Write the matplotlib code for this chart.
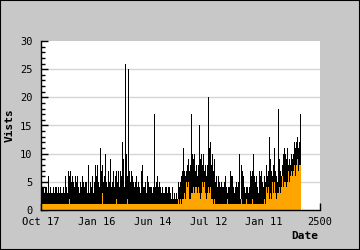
import numpy as np
import matplotlib
matplotlib.use('Agg')
import matplotlib.pyplot as plt
from matplotlib.patches import Rectangle

# visits per bin (one bin ~ 9 days)
visits = [
    7, 4, 4, 3, 4, 4, 3, 6, 3, 4, 3, 3, 4, 3, 4, 4, 3, 4, 3, 4, 3, 3, 4, 3, 6, 4, 3, 7, 6, 7, 5, 6, 5, 4, 6, 5, 6, 4, 3, 5, 4, 6, 5, 4, 5,
    5, 3, 8, 3, 5, 4, 6, 3, 5, 8, 6, 8, 5, 4, 11, 7, 8, 5, 6, 10, 5, 4, 7, 5, 9, 4, 5, 7, 4, 6, 7, 5, 7, 4, 7, 6, 12, 9, 4, 26, 10, 6, 25, 7, 5,
    7, 6, 5, 4, 5, 6, 4, 5, 4, 3, 7, 8, 4, 4, 5, 3, 6, 5, 4, 4, 4, 3, 4, 17, 4, 5, 6, 4, 5, 4, 3, 4, 3, 3, 4, 4, 3, 4, 4, 3, 2, 4, 2, 3, 2,
    3, 2, 5, 4, 5, 6, 7, 11, 7, 6, 7, 8, 9, 7, 8, 17, 10, 9, 10, 7, 8, 6, 8, 15, 9, 10, 8, 10, 7, 8, 6, 8, 20, 11, 12, 8, 10, 7, 9, 5, 6, 4, 6, 5, 4,
    5, 4, 4, 5, 6, 4, 3, 4, 4, 7, 6, 6, 4, 3, 4, 5, 4, 5, 10, 2, 8, 7, 6, 4, 3, 4, 4, 3, 4, 7, 6, 7, 10, 6, 5, 6, 4, 3, 7, 6, 7, 5, 4, 6, 5,
    8, 6, 7, 13, 9, 7, 6, 8, 11, 7, 6, 5, 18, 9, 7, 6, 8, 10, 11, 10, 9, 11, 8, 9, 8, 10, 9, 10, 12, 11, 12, 13, 11, 12, 17,
]
uniques = [
    1, 1, 1, 1, 1, 1, 1, 1, 1, 1, 1, 1, 1, 1, 1, 1, 1, 1, 1, 1, 1, 1, 1, 1, 1, 1, 1, 1, 2, 1, 1, 1, 1, 1, 1, 1, 1, 1, 1, 1, 1, 1, 1, 1, 1,
    1, 1, 1, 1, 1, 1, 1, 1, 1, 1, 1, 1, 1, 1, 1, 1, 3, 1, 1, 1, 1, 1, 1, 1, 1, 1, 1, 1, 1, 1, 2, 1, 1, 1, 1, 1, 1, 1, 1, 1, 1, 2, 1, 1, 1,
    1, 1, 1, 1, 1, 1, 1, 1, 1, 1, 1, 1, 1, 1, 1, 1, 1, 1, 1, 1, 1, 1, 1, 1, 1, 1, 1, 1, 1, 1, 1, 1, 1, 1, 1, 1, 1, 1, 1, 1, 1, 1, 1, 1, 1,
    1, 1, 2, 1, 2, 1, 2, 2, 3, 2, 5, 4, 5, 2, 2, 3, 3, 4, 3, 4, 4, 3, 4, 3, 2, 3, 5, 4, 5, 3, 2, 3, 4, 3, 4, 2, 2, 1, 2, 1, 1, 1, 1, 1, 1,
    1, 1, 1, 1, 1, 1, 2, 1, 1, 1, 1, 1, 1, 1, 1, 1, 1, 1, 1, 1, 2, 1, 1, 1, 1, 2, 1, 1, 1, 1, 1, 2, 1, 1, 1, 1, 1, 1, 1, 1, 1, 1, 1, 2, 1,
    4, 3, 4, 2, 3, 2, 5, 3, 5, 3, 2, 3, 3, 4, 3, 4, 6, 4, 5, 5, 4, 5, 7, 5, 6, 7, 6, 7, 8, 6, 8, 9, 7, 8, 8,
]
xticks = [0, 500, 1000, 1500, 2000, 2500]
xticklabels = ['Oct 17', 'Jan 16', 'Jun 14', 'Jul 12', 'Jan 11', '2500']

bin_days = 2500 / 279
edges = np.arange(len(visits) + 1) * bin_days

plt.rcParams['font.family'] = 'DejaVu Sans Mono'
fig = plt.figure(figsize=(3.6, 2.5), dpi=100, facecolor='#c8c8c8')
ax = fig.add_axes([41 / 360, 40 / 250, 279 / 360, 169 / 250])
ax.set_facecolor('white')

for y in range(5, 30, 5):
    ax.axhline(y, color='#d6d6d6', lw=1, zorder=0)

ax.stairs(visits, edges, fill=True, color='black', lw=0, zorder=2)
ax.stairs(uniques, edges, fill=True, color='#ffa500', lw=0, zorder=3)

ax.set_xlim(0, 2500)
ax.set_ylim(0, 30)
ax.set_xticks(xticks)
ax.set_xticklabels(xticklabels)
ax.set_yticks(range(0, 31, 5))
ax.set_yticks(range(0, 31), minor=True)
ax.tick_params(axis='both', which='major', direction='in', length=5, width=1,
               labelsize=7.5, color='black', zorder=5)
ax.tick_params(axis='x', pad=5)
ax.tick_params(axis='y', pad=6)
ax.tick_params(axis='y', which='minor', direction='in', length=3, width=1)
for side in ['top', 'right']:
    ax.spines[side].set_visible(False)
for side in ['left', 'bottom']:
    ax.spines[side].set_linewidth(1)
    ax.spines[side].set_zorder(5)

ax.set_ylabel('Vists', fontsize=8, fontweight='bold', labelpad=4)
fig.text(305 / 360, 1 - 236 / 250, 'Date', fontsize=8, fontweight='bold',
         ha='center', va='center')

fig.patches.append(Rectangle((0, 0), 1, 1, transform=fig.transFigure,
                             fill=False, edgecolor='black', lw=1.5))

fig.savefig('out.png', dpi=100, facecolor=fig.get_facecolor())
